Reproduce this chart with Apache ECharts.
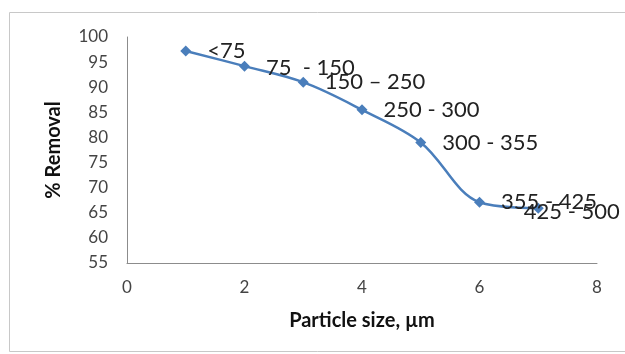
<!DOCTYPE html>
<html>
<head>
<meta charset="utf-8">
<script src="https://cdn.jsdelivr.net/npm/echarts@6/dist/echarts.min.js"></script>
<style>
html, body { margin: 0; padding: 0; background: #fff; }
#chart { width: 625px; height: 354px; }
</style>
</head>
<body>
<div id="chart"></div>
<script>
// particle size class index vs % removal
var sizeIndex = [1, 2, 3, 4, 5, 6, 7]
var removal = [97.2, 94.2, 91.0, 85.5, 79.0, 67.1, 65.9]
var sizeLabels = ['<75', '75  - 150', '150 \u2013 250', '250 - 300', '300 - 355', '355 - 425', '425 - 500']

var font = 'Lato, "Open Sans", sans-serif'
var myChart = echarts.init(document.getElementById('chart'))

var points = sizeIndex.map(function (x, i) {
  var item = { value: [x, removal[i]], name: sizeLabels[i] }
  // last two labels overlap in the original
  if (i === 6) {
    item.label = { offset: [-36, 4] }
  } else if (i === 1) {
    item.label = { offset: [0, 2] }
  }
  return item
})

var option = {
  backgroundColor: '#fff',
  animation: false,
  graphic: [{
    type: 'rect',
    shape: { x: 9.5, y: 12.5, width: 640, height: 339 },
    style: { fill: 'none', stroke: '#c8c8c8', lineWidth: 1 },
    silent: true
  }],
  grid: {
    left: 127,
    right: 28,
    top: 37,
    bottom: 91
  },
  xAxis: {
    type: 'value',
    min: 0,
    max: 8,
    interval: 2,
    name: 'Particle size, \u00b5m',
    nameLocation: 'middle',
    nameGap: 48,
    nameTextStyle: { fontFamily: font, fontSize: 20, fontWeight: 'bold', color: '#111' },
    axisLine: { show: true, lineStyle: { color: '#8c8c8c', width: 1 } },
    axisTick: { show: false },
    axisLabel: { fontFamily: font, fontSize: 17, color: '#444', margin: 16 },
    splitLine: { show: false }
  },
  yAxis: {
    type: 'value',
    min: 55,
    max: 100,
    interval: 5,
    name: '% Removal',
    nameLocation: 'middle',
    nameGap: 63,
    nameTextStyle: { fontFamily: font, fontSize: 20, fontWeight: 'bold', color: '#111' },
    axisLine: { show: true, lineStyle: { color: '#8c8c8c', width: 1 } },
    axisTick: { show: false },
    axisLabel: { fontFamily: font, fontSize: 17, color: '#444', margin: 19 },
    splitLine: { show: false }
  },
  series: [{
    type: 'line',
    smooth: 0.35,
    data: points,
    symbol: 'diamond',
    symbolSize: 11,
    itemStyle: { color: '#4a7ebb' },
    lineStyle: { color: '#4a7ebb', width: 2.5 },
    label: {
      show: true,
      position: 'right',
      distance: 16,
      formatter: '{b}',
      fontFamily: font,
      fontSize: 22,
      color: '#222'
    }
  }]
}

myChart.setOption(option)
window.onresize = myChart.resize
</script>
</body>
</html>
